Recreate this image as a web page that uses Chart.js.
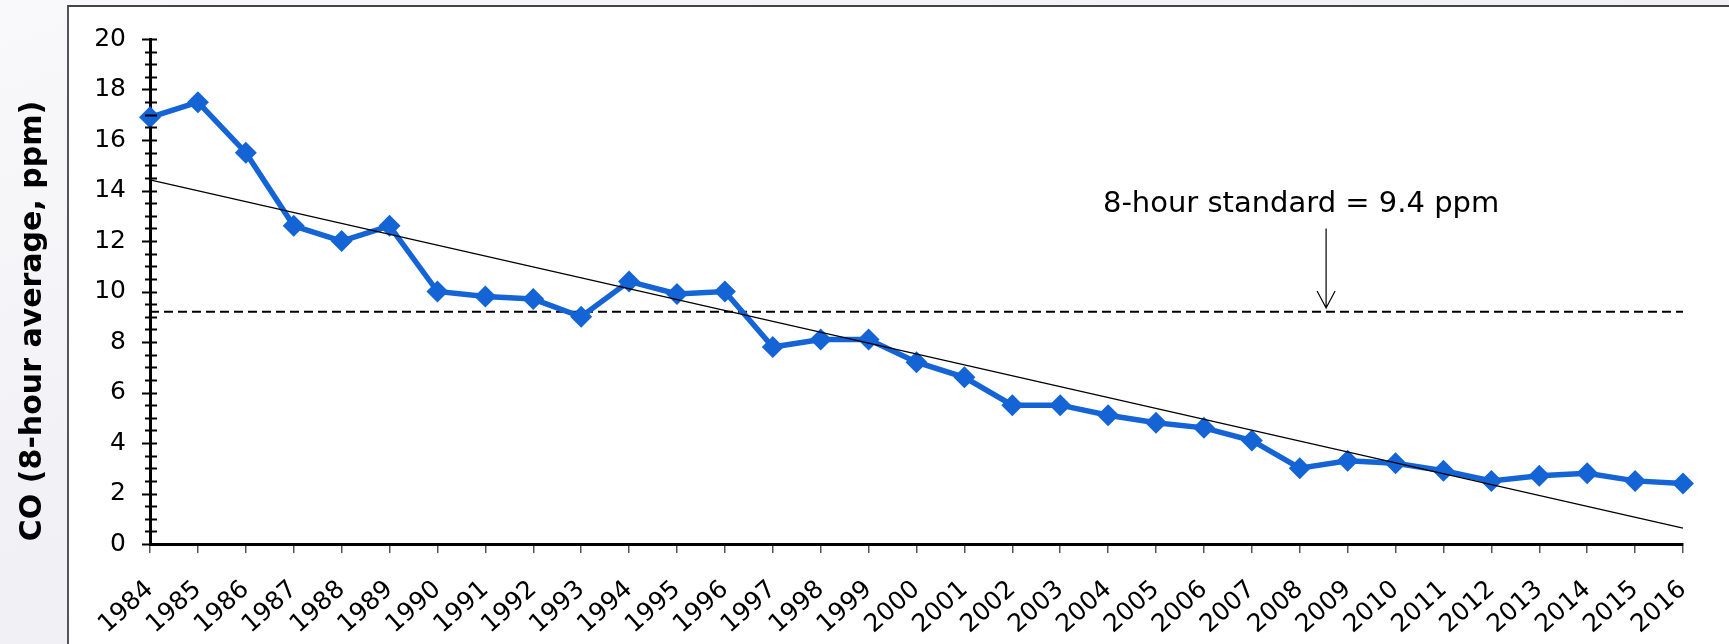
<!DOCTYPE html>
<html>
<head>
<meta charset="utf-8">
<script src="https://cdn.jsdelivr.net/npm/chart.js@4.4.1/dist/chart.umd.min.js"></script>
<style>
    html, body { margin: 0; padding: 0; }
    body {
        width: 1729px; height: 644px; overflow: hidden; position: relative;
        background: linear-gradient(160deg, #f9f9fb 0%, #efeff4 55%, #e6e6ec 100%);
        font-family: "DejaVu Sans", sans-serif;
    }
    #marco {
        position: absolute; left: 67px; top: 5px; width: 1720px; height: 700px;
        background: #fff; border-left: 2px solid #555; border-top: 2px solid #444;
    }
    #grafico { position: absolute; left: 0; top: 0; }
</style>
</head>
<body>
<div id="marco"></div>
<canvas id="grafico" width="1729" height="644"></canvas>
<script>
// =========================================================================
// DATOS
// =========================================================================
const anios = ['1984', '1985', '1986', '1987', '1988', '1989', '1990', '1991', '1992', '1993',
    '1994', '1995', '1996', '1997', '1998', '1999', '2000', '2001', '2002', '2003', '2004',
    '2005', '2006', '2007', '2008', '2009', '2010', '2011', '2012', '2013', '2014', '2015', '2016'];

const valoresCO = [16.9, 17.5, 15.5, 12.6, 12.0, 12.6, 10.0, 9.8, 9.7, 9.0,
    10.4, 9.9, 10.0, 7.8, 8.1, 8.1, 7.2, 6.6, 5.5, 5.5, 5.1,
    4.8, 4.6, 4.1, 3.0, 3.3, 3.2, 2.9, 2.5, 2.7, 2.8, 2.5, 2.4];

// Línea de tendencia (extremos) y estándar de 8 horas
const tendenciaAnios = ['1984', '2016'];
const tendenciaValores = [14.42, 0.63];
const estandarAnios = ['1984', '2016'];
const estandarValores = [9.2, 9.2];

const ticksY = [0, 2, 4, 6, 8, 10, 12, 14, 16, 18, 20];
const tituloY = 'CO (8-hour average, ppm)';
const textoEstandar = '8-hour standard = 9.4 ppm';

const AZUL = '#1464d6';
const FUENTE = '"DejaVu Sans", Verdana, sans-serif';

// =========================================================================
// PLUGIN: marcas del eje Y, título del eje y anotación
// =========================================================================
const extrasPlugin = {
    id: 'extras',
    afterDraw(chart) {
        const ctx = chart.ctx;
        const y = chart.scales.y;
        const x = chart.scales.x;
        const ejeX = chart.chartArea.left;

        // marcas mayores y menores del eje Y
        ctx.save();
        ctx.strokeStyle = '#000';
        ctx.lineWidth = 2;
        y.ticks.forEach(t => {
            const py = Math.round(y.getPixelForValue(t.value)) + 0.5;
            const mayor = ticksY.includes(t.value);
            ctx.beginPath();
            ctx.moveTo(ejeX - (mayor ? 8 : 5), py);
            ctx.lineTo(ejeX + 7, py);
            ctx.stroke();
        });
        ctx.restore();

        // título del eje Y
        ctx.save();
        ctx.translate(41, 321);
        ctx.rotate(-Math.PI / 2);
        ctx.font = 'bold 30px ' + FUENTE;
        ctx.fillStyle = '#000';
        ctx.textAlign = 'center';
        ctx.textBaseline = 'alphabetic';
        ctx.fillText(tituloY, 0, 0);
        ctx.restore();

        // anotación del estándar con flecha
        const ax = x.getPixelForValue(24.55);
        const yTexto = y.getPixelForValue(13.45);
        const yIni = y.getPixelForValue(12.5);
        const yFin = y.getPixelForValue(9.35);
        ctx.save();
        ctx.font = '29px ' + FUENTE;
        ctx.fillStyle = '#000';
        ctx.textAlign = 'center';
        ctx.textBaseline = 'middle';
        ctx.fillText(textoEstandar, ax - 25, yTexto);
        ctx.strokeStyle = '#000';
        ctx.lineWidth = 1.2;
        ctx.beginPath();
        ctx.moveTo(ax, yIni);
        ctx.lineTo(ax, yFin);
        ctx.moveTo(ax - 9, yFin - 17);
        ctx.lineTo(ax, yFin);
        ctx.lineTo(ax + 9, yFin - 17);
        ctx.stroke();
        ctx.restore();
    }
};

// =========================================================================
// GRÁFICO
// =========================================================================
function initGrafico() {
    const canvas = document.getElementById('grafico');

    new Chart(canvas.getContext('2d'), {
        type: 'line',
        data: {
            labels: anios,
            datasets: [
                {
                    label: 'Estándar',
                    data: estandarAnios.map((a, i) => ({ x: a, y: estandarValores[i] })),
                    borderColor: '#000',
                    borderWidth: 2,
                    borderDash: [9, 5],
                    pointRadius: 0,
                    spanGaps: true,
                    order: 3
                },
                {
                    label: 'Tendencia',
                    data: tendenciaAnios.map((a, i) => ({ x: a, y: tendenciaValores[i] })),
                    borderColor: '#000',
                    borderWidth: 1.2,
                    pointRadius: 0,
                    spanGaps: true,
                    order: 1
                },
                {
                    label: 'CO',
                    data: valoresCO,
                    borderColor: AZUL,
                    backgroundColor: AZUL,
                    borderWidth: 5.5,
                    tension: 0,
                    pointStyle: 'rectRot',
                    pointRadius: 11,
                    pointBorderWidth: 0,
                    pointBackgroundColor: AZUL,
                    order: 2
                }
            ]
        },
        options: {
            responsive: false,
            animation: false,
            layout: { padding: { top: 35, right: 46, left: 0, bottom: 0 } },
            plugins: {
                legend: { display: false },
                tooltip: { enabled: false }
            },
            scales: {
                x: {
                    type: 'category',
                    offset: false,
                    afterFit: (s) => { s.height = 100; },
                    border: { display: true, color: '#000', width: 3 },
                    grid: {
                        drawOnChartArea: false,
                        drawTicks: true,
                        tickLength: 9,
                        color: '#555',
                        lineWidth: 1.5
                    },
                    ticks: {
                        autoSkip: false,
                        minRotation: 42,
                        maxRotation: 42,
                        padding: 22,
                        color: '#000',
                        font: { family: FUENTE, size: 25 }
                    }
                },
                y: {
                    min: 0,
                    max: 20,
                    afterFit: (s) => { s.width = 150; },
                    border: { display: true, color: '#000', width: 3 },
                    grid: { display: false, drawTicks: false },
                    ticks: {
                        stepSize: 0.5,
                        autoSkip: false,
                        padding: 24,
                        color: '#000',
                        font: { family: FUENTE, size: 25 },
                        callback: (v) => ticksY.includes(v) ? v : ''
                    }
                }
            }
        },
        plugins: [extrasPlugin]
    });
}

initGrafico();
</script>
</body>
</html>
